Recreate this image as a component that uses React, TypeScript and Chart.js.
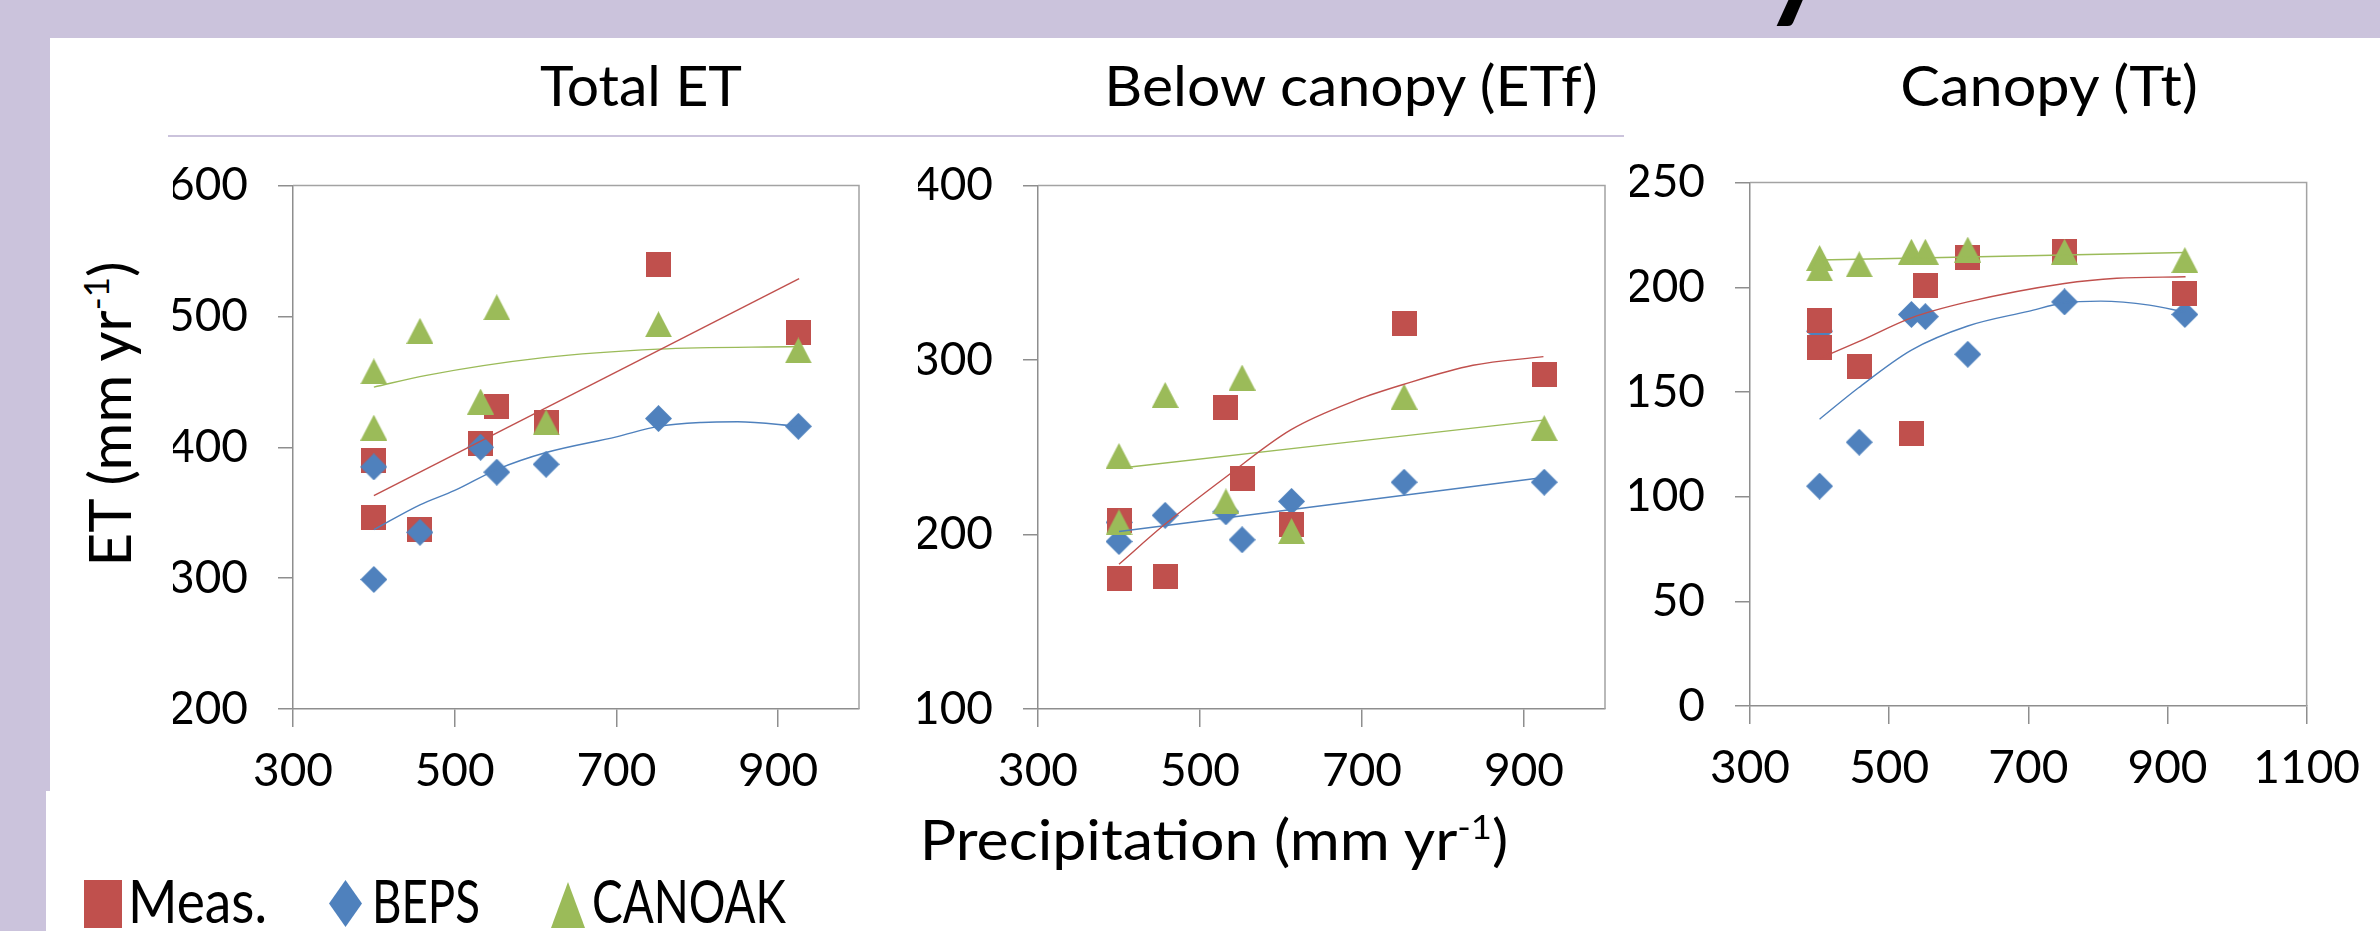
import React, { useEffect, useRef } from "react";
import { Chart, registerables } from "chart.js";

Chart.register(...registerables);

const FONT = "Lato, 'Open Sans', sans-serif";
const LAV = "#CBC3DC";
const RED = "#C0504D";
const BLUE = "#4F81BD";
const GREEN = "#9BBB59";
const AXIS = "#8E8E8E";
const FRAME = "#A3A3A3";

// ---------------- data ----------------
// annual precipitation (mm/yr) of the eight site-years
const precip = [400, 400, 457, 532, 552, 613, 752, 925];

// Total ET
const totalMeas = [390, 346, 337, 403, 431, 419, 540, 488];
const totalBeps = [385, 299, 335, 400, 381, 387, 422, 416];
const totalCanoak = [458, 415, 489, 435, 507, 419, 494, 474];

// Below canopy (ETf)
const floorMeas = [208, 175, 176, 273, 232, 206, 321, 292];
const floorBeps = [207, 196, 211, 213, 197, 219, 230, 230];
const floorCanoak = [245, 207, 280, 219, 290, 202, 279, 261];

// Canopy (Tt)
const canopyMeas = [184, 171, 162, 130, 201, 214, 217, 197];
const canopyBeps = [179, 105, 126, 187, 186, 168, 193, 187];
const canopyCanoak = [214, 209, 211, 217, 217, 218, 217, 213];

// trend lines, read at a few precipitation values
const totalMeasFitX = [400, 926];
const totalMeasFitY = [363, 529];
const totalBepsFitX = [400, 457, 500, 552, 613, 700, 752, 805, 850, 926];
const totalBepsFitY = [337, 356, 367, 383, 396, 408, 416, 419, 419.5, 416];
const totalCanoakFitX = [400, 465, 610, 752, 925];
const totalCanoakFitY = [446, 455, 468.5, 475, 477];

const floorMeasFitX = [400, 457, 532, 612, 693, 751, 837, 924];
const floorMeasFitY = [183, 206, 233, 260, 277, 286, 297, 302];
const floorBepsFitX = [400, 924];
const floorBepsFitY = [201.7, 232.7];
const floorCanoakFitX = [400, 924];
const floorCanoakFitY = [238, 265.6];

const canopyMeasFitX = [400, 456, 532, 613, 752, 827, 926];
const canopyMeasFitY = [166, 174, 185.4, 193, 201.8, 204.3, 205];
const canopyBepsFitX = [400, 456, 532, 613, 700, 752, 804, 874, 926];
const canopyBepsFitY = [137, 152, 170, 181.5, 188.5, 192.6, 193.4, 191.5, 188];
const canopyCanoakFitX = [400, 926];
const canopyCanoakFitY = [213, 216.6];

// axis ticks
const xTicksA = [300, 500, 700, 900];
const xTicksB = [300, 500, 700, 900, 1100];
const yTicksTotal = [200, 300, 400, 500, 600];
const yTicksFloor = [100, 200, 300, 400];
const yTicksCanopy = [0, 50, 100, 150, 200, 250];

const seriesNames = ["Meas.", "BEPS", "CANOAK"];
const panelTitles = ["Total ET", "Below canopy (ETf)", "Canopy (Tt)"];
const xTitle = "Precipitation (mm yr";
const yTitle = "ET (mm yr";
const unitExp = "-1";

// ---------------- layout ----------------
const AXW = 120; // y-axis box width
const AXH = 100; // x-axis box height
const PT = 40;
const PR = 60;
const TICK_SIZE = 46;

function pts(xs: number[], ys: number[]) {
  return xs.map((x, i) => ({ x, y: ys[i] }));
}

function marker(kind: string, color: string): HTMLCanvasElement {
  const c = document.createElement("canvas");
  const ctx = c.getContext("2d")!;
  if (kind === "square") {
    c.width = 25; c.height = 25;
    ctx.fillStyle = color;
    ctx.fillRect(0, 0, 25, 25);
  } else if (kind === "diamond") {
    c.width = 27; c.height = 27;
    ctx.fillStyle = color;
    ctx.beginPath();
    ctx.moveTo(13.5, 0); ctx.lineTo(27, 13.5); ctx.lineTo(13.5, 27); ctx.lineTo(0, 13.5);
    ctx.closePath(); ctx.fill();
  } else {
    c.width = 27; c.height = 26;
    ctx.fillStyle = color;
    ctx.beginPath();
    ctx.moveTo(13.5, 0); ctx.lineTo(27, 26); ctx.lineTo(0, 26);
    ctx.closePath(); ctx.fill();
  }
  return c;
}

const framePlugin = {
  id: "frame",
  beforeDatasetsDraw(chart: any) {
    const { ctx, chartArea: a } = chart;
    ctx.save();
    ctx.strokeStyle = FRAME;
    ctx.lineWidth = 1.5;
    ctx.beginPath();
    ctx.moveTo(a.left, a.top);
    ctx.lineTo(a.right, a.top);
    ctx.lineTo(a.right, a.bottom);
    ctx.stroke();
    ctx.restore();
  },
};

interface PanelSpec {
  box: [number, number, number, number];
  xMax: number;
  xTicks: number[];
  yMin: number;
  yMax: number;
  yTicks: number[];
  meas: number[];
  beps: number[];
  canoak: number[];
  fits: [number[], number[], string][];
  order: [number, number, number]; // meas, beps, canoak draw order (lower = on top)
}

const panels: PanelSpec[] = [
  {
    box: [293, 168, 859, 709], xMax: 1000, xTicks: xTicksA,
    yMin: 200, yMax: 600, yTicks: yTicksTotal,
    meas: totalMeas, beps: totalBeps, canoak: totalCanoak,
    fits: [[totalMeasFitX, totalMeasFitY, RED], [totalBepsFitX, totalBepsFitY, BLUE], [totalCanoakFitX, totalCanoakFitY, GREEN]],
    order: [5, 4, 3],
  },
  {
    box: [1038, 168, 1605, 709], xMax: 1000, xTicks: xTicksA,
    yMin: 100, yMax: 400, yTicks: yTicksFloor,
    meas: floorMeas, beps: floorBeps, canoak: floorCanoak,
    fits: [[floorMeasFitX, floorMeasFitY, RED], [floorBepsFitX, floorBepsFitY, BLUE], [floorCanoakFitX, floorCanoakFitY, GREEN]],
    order: [4, 5, 3],
  },
  {
    box: [1750, 165, 2317, 706], xMax: 1100, xTicks: xTicksB,
    yMin: 0, yMax: 250, yTicks: yTicksCanopy,
    meas: canopyMeas, beps: canopyBeps, canoak: canopyCanoak,
    fits: [[canopyMeasFitX, canopyMeasFitY, RED], [canopyBepsFitX, canopyBepsFitY, BLUE], [canopyCanoakFitX, canopyCanoakFitY, GREEN]],
    order: [4, 5, 3],
  },
];

function Panel({ spec }: { spec: PanelSpec }) {
  const ref = useRef<HTMLCanvasElement>(null);
  const [L, T, R, B] = spec.box;
  const w = R - L + AXW + PR;
  const h = B - T + PT + AXH;

  useEffect(() => {
    const sq = marker("square", RED);
    const dm = marker("diamond", BLUE);
    const tr = marker("triangle", GREEN);
    const fitSets = spec.fits.map(([xs, ys, col], i) => ({
      data: pts(xs, ys),
      showLine: true,
      borderColor: col,
      borderWidth: 1.4,
      pointRadius: 0,
      cubicInterpolationMode: "monotone" as const,
      order: i,
    }));
    const chart = new Chart(ref.current!, {
      type: "scatter",
      data: {
        datasets: [
          ...fitSets,
          { label: seriesNames[0], data: pts(precip, spec.meas), pointStyle: sq, pointRadius: 12, order: spec.order[0] },
          { label: seriesNames[1], data: pts(precip, spec.beps), pointStyle: dm, pointRadius: 12, order: spec.order[1] },
          { label: seriesNames[2], data: pts(precip, spec.canoak), pointStyle: tr, pointRadius: 12, order: spec.order[2] },
        ] as any,
      },
      options: {
        responsive: false,
        animation: false,
        devicePixelRatio: 1,
        events: [],
        layout: { padding: { left: 0, top: PT, right: PR, bottom: 0 } },
        plugins: { legend: { display: false }, tooltip: { enabled: false }, title: { display: false } },
        scales: {
          x: {
            type: "linear",
            position: "bottom",
            min: 300,
            max: spec.xMax,
            afterBuildTicks: (s: any) => { s.ticks = spec.xTicks.map((v) => ({ value: v })); },
            afterFit: (s: any) => { s.height = AXH; },
            grid: { drawOnChartArea: false, drawTicks: true, tickLength: 18, color: AXIS, lineWidth: 1.5 },
            border: { display: true, color: AXIS, width: 1.5 },
            ticks: {
              font: { family: FONT, size: TICK_SIZE }, color: "#000", padding: 17,
              maxRotation: 0, autoSkip: false, callback: (v: any) => String(v),
            },
          },
          y: {
            type: "linear",
            min: spec.yMin,
            max: spec.yMax,
            afterBuildTicks: (s: any) => { s.ticks = spec.yTicks.map((v) => ({ value: v })); },
            afterFit: (s: any) => { s.width = AXW; },
            grid: { drawOnChartArea: false, drawTicks: true, tickLength: 15, color: AXIS, lineWidth: 1.5 },
            border: { display: true, color: AXIS, width: 1.5 },
            ticks: {
              font: { family: FONT, size: TICK_SIZE }, color: "#000", padding: 30,
              autoSkip: false, callback: (v: any) => String(v),
            },
          },
        },
      } as any,
      plugins: [framePlugin],
    });
    return () => chart.destroy();
  }, []);

  return (
    <canvas
      ref={ref}
      width={w}
      height={h}
      style={{ position: "absolute", left: L - AXW, top: T - PT, width: w, height: h }}
    />
  );
}

const measureCtx = document.createElement("canvas").getContext("2d")!;
function measure(text: string, size: number, weight = 400) {
  measureCtx.font = `${weight} ${size}px ${FONT}`;
  return measureCtx.measureText(text).width;
}

// text whose baseline sits at `baseline`, centred on cx and stretched to `target` px wide
function FitTxt(props: { cx: number; baseline: number; size: number; text: string; sup?: string; target: number }) {
  const { cx, baseline, size, text, sup, target } = props;
  const natural = measure(text, size) + (sup ? measure(sup, size * 0.6) + measure(")", size) : 0);
  const s = target / natural;
  return (
    <div
      style={{
        position: "absolute", left: cx - 700, width: 1400, top: baseline - 0.887 * size,
        fontSize: size, lineHeight: `${size}px`, height: size, textAlign: "center",
        whiteSpace: "nowrap", color: "#000", transform: `scaleX(${s})`, transformOrigin: "50% 0",
      }}
    >
      {text}
      {sup ? (
        <>
          <span style={{ fontSize: "0.6em", position: "relative", top: "-0.62em" }}>{sup}</span>)
        </>
      ) : null}
    </div>
  );
}

function LegendText({ x, text, target }: { x: number; text: string; target: number }) {
  const size = 60;
  const s = target / measure(text, size);
  return (
    <div
      style={{
        position: "absolute", left: x, top: 923 - 0.887 * size, fontSize: size,
        lineHeight: `${size}px`, whiteSpace: "nowrap", transform: `scaleX(${s})`,
        transformOrigin: "0 0", color: "#000",
      }}
    >
      {text}
    </div>
  );
}

export default function App() {
  const yLabelSize = 58;
  const yCx = 108.6;
  const yCy = 414;
  const yNatural = measure(yTitle, yLabelSize) + measure(unitExp, yLabelSize * 0.6) + measure(")", yLabelSize);
  const ySc = 308 / yNatural;
  const headSize = 170;
  return (
    <div
      style={{
        position: "fixed", left: 0, top: 0, width: 2380, height: 931, overflow: "hidden",
        background: LAV, fontFamily: FONT,
      }}
    >
      {/* white slide areas */}
      <div style={{ position: "absolute", left: 50, top: 38, right: 0, bottom: 0, background: "#fff" }} />
      <div style={{ position: "absolute", left: 46, top: 791, right: 0, bottom: 0, background: "#fff" }} />

      {/* tail of the slide heading, cut off at the top edge */}
      <div
        style={{
          position: "absolute", left: 1755, top: -3 - 0.887 * headSize, fontSize: headSize,
          lineHeight: `${headSize}px`, height: headSize, color: "#000", fontWeight: 400,
        }}
      >
        y
      </div>

      {/* separator line under the panel titles */}
      <div style={{ position: "absolute", left: 168, top: 135, width: 1456, height: 2, background: LAV }} />

      {/* panel titles */}
      <FitTxt cx={641} baseline={107} size={56} text={panelTitles[0]} target={202} />
      <FitTxt cx={1351} baseline={107} size={56} text={panelTitles[1]} target={496} />
      <FitTxt cx={2049} baseline={107} size={56} text={panelTitles[2]} target={299} />

      {panels.map((p, i) => (
        <Panel key={i} spec={p} />
      ))}

      {/* y-axis title */}
      <div
        style={{
          position: "absolute", left: yCx - 300, top: yCy - yLabelSize / 2, width: 600,
          height: yLabelSize, lineHeight: `${yLabelSize}px`, fontSize: yLabelSize,
          textAlign: "center", whiteSpace: "nowrap", transform: `rotate(-90deg) scaleX(${ySc})`, color: "#000",
        }}
      >
        {yTitle}
        <span style={{ fontSize: "0.6em", position: "relative", top: "-0.62em" }}>{unitExp}</span>)
      </div>

      {/* x-axis title */}
      <FitTxt cx={1214} baseline={861} size={56} text={xTitle} sup={unitExp} target={590} />

      {/* legend */}
      <div style={{ position: "absolute", left: 84, top: 880, width: 38, height: 48, background: RED }} />
      <LegendText x={128} text={seriesNames[0]} target={139} />
      <div
        style={{
          position: "absolute", left: 329, top: 880, width: 33, height: 47, background: BLUE,
          clipPath: "polygon(50% 0, 100% 50%, 50% 100%, 0 50%)",
        }}
      />
      <LegendText x={372} text={seriesNames[1]} target={108} />
      <div
        style={{
          position: "absolute", left: 551, top: 882, width: 34, height: 46, background: GREEN,
          clipPath: "polygon(50% 0, 100% 100%, 0 100%)",
        }}
      />
      <LegendText x={592} text={seriesNames[2]} target={194} />
    </div>
  );
}
